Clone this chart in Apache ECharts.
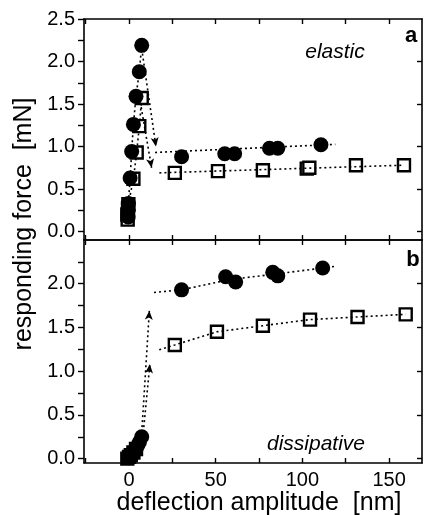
<!DOCTYPE html>
<html>
<head>
<meta charset="utf-8">
<script src="https://cdn.jsdelivr.net/npm/echarts@6/dist/echarts.min.js"></script>
<style>
  html, body { margin: 0; padding: 0; background: #fff; }
  #chart { width: 424px; height: 515px; }
</style>
</head>
<body>
<div id="chart"></div>
<script>
// ---- data ----
// axis ticks / labels
const xTicks = [-25, 0, 25, 50, 75, 100, 125, 150]
const xLabels = [0, 50, 100, 150]
const yTicksTop = [0, 0.25, 0.5, 0.75, 1, 1.25, 1.5, 1.75, 2, 2.25, 2.5]
const yLabelsTop = [0, 0.5, 1, 1.5, 2, 2.5]
const yTicksBottom = [0, 0.25, 0.5, 0.75, 1, 1.25, 1.5, 1.75, 2, 2.25]
const yLabelsBottom = [0, 0.5, 1, 1.5, 2]
const yRightTicks = [0, 0.5, 1, 1.5, 2]

// panel a (elastic) - steep rise near zero deflection
const elasticRiseCircles = [[-0.5, 0.17], [-0.5, 0.25], [-0.4, 0.33], [0.6, 0.63], [1.5, 0.94], [2.5, 1.26], [4, 1.59], [5.9, 1.88], [7.3, 2.19]]
const elasticRiseSquares = [[-0.8, 0.14], [-1, 0.2], [-0.6, 0.27], [-0.4, 0.32], [2.5, 0.62], [4.4, 0.93], [5.9, 1.24], [7.3, 1.57]]
// panel a - plateau
const elasticCircles = [[30.3, 0.88], [55.2, 0.915], [60.9, 0.915], [81, 0.98], [85.8, 0.98], [110.7, 1.02]]
const elasticSquares = [[26.4, 0.69], [51.3, 0.71], [77.2, 0.72], [102.5, 0.74], [104, 0.75], [130.9, 0.78], [158.6, 0.78]]
const elasticCircleTrend = [[15, 0.93], [119, 1.025]]
const elasticSquareTrend = [[17.5, 0.69], [158.6, 0.78]]
// arrows [from, to]
const elasticArrows = [[[7.3, 2.15], [15.5, 1.0]], [[6.5, 1.52], [13, 0.75]]]

// panel b (dissipative) - cluster near zero
const dissRiseCircles = [[0, 0.01], [1, 0.03], [2, 0.05], [3, 0.08], [4, 0.11], [5, 0.15], [6, 0.19], [7.3, 0.25]]
const dissRiseSquares = [[-1, 0.0], [0, 0.02], [1, 0.04], [2.5, 0.07], [4, 0.11]]
// panel b - plateau
const dissCircles = [[30.3, 1.93], [55.7, 2.08], [61.5, 2.02], [82.9, 2.13], [85.8, 2.09], [111.7, 2.18]]
const dissSquares = [[26.4, 1.3], [50.7, 1.45], [77.2, 1.52], [104.4, 1.59], [131.8, 1.62], [159.6, 1.65]]
const dissCircleTrend = [[14.4, 1.9], [30.3, 1.93], [58.6, 2.05], [84.3, 2.11], [111.7, 2.18], [119, 2.2]]
const dissSquareTrend = [[17.4, 1.245], [26.4, 1.3], [50.7, 1.45], [77.2, 1.52], [104.4, 1.59], [131.8, 1.62], [159.6, 1.65]]
const dissArrows = [[[7.5, 0.36], [11.7, 1.69]], [[8.5, 0.36], [12, 1.08]]]

// ---- styling ----
const FONT = 'Liberation Sans, Arial, sans-serif'
const DOTTED = { color: '#000', width: 1.6, type: [2, 3] }
const OPEN_SQ = { color: '#fff', borderColor: '#000', borderWidth: 2.4, opacity: 1 }
const FILLED = { color: '#000', opacity: 1 }

const chart = echarts.init(document.getElementById('chart'), null, { renderer: 'canvas' })

function xAxis(grid, position, withLabels) {
  return {
    type: 'value', gridIndex: grid, position: position,
    min: -26, max: 169,
    axisLine: { onZero: false, lineStyle: { color: '#000', width: 1.6 } },
    axisTick: { inside: true, length: 5, customValues: xTicks, lineStyle: { color: '#000', width: 1.4 } },
    axisLabel: withLabels
      ? { show: true, customValues: xLabels, margin: 7, color: '#000', fontSize: 20, fontFamily: FONT }
      : { show: false },
    splitLine: { show: false }
  }
}

function yAxis(grid, position, min, ticks, labels) {
  const left = position === 'left'
  return {
    type: 'value', gridIndex: grid, position: position,
    min: min, max: 2.5,
    axisLine: { onZero: false, lineStyle: { color: '#000', width: 1.6 } },
    axisTick: { inside: !left, length: left ? 6 : 5, customValues: ticks, lineStyle: { color: '#000', width: 1.4 } },
    axisLabel: labels
      ? { show: true, customValues: labels, margin: 9, color: '#000', fontSize: 20, fontFamily: FONT,
          formatter: v => v.toFixed(1) }
      : { show: false },
    splitLine: { show: false }
  }
}

function line(grid, data, extra) {
  return Object.assign({
    type: 'line', xAxisIndex: grid * 2, yAxisIndex: grid * 2,
    data: data, symbol: 'none', lineStyle: DOTTED, z: 4, silent: true
  }, extra || {})
}

function pts(grid, data, shape, z) {
  const sq = shape === 'rect'
  return {
    type: 'scatter', xAxisIndex: grid * 2, yAxisIndex: grid * 2,
    data: data, symbol: shape, symbolSize: sq ? 12 : 15,
    itemStyle: sq ? OPEN_SQ : FILLED, z: z, silent: true
  }
}

function arrows(grid, list) {
  return {
    type: 'line', xAxisIndex: grid * 2, yAxisIndex: grid * 2, data: [], silent: true,
    markLine: {
      silent: true, animation: false,
      symbol: ['none', 'arrow'], symbolSize: [6, 9],
      label: { show: false },
      lineStyle: DOTTED,
      data: list.map(a => [{ coord: a[0] }, { coord: a[1] }])
    }
  }
}

const option = {
  animation: false,
  backgroundColor: '#fff',
  grid: [
    { left: 84, right: 2, top: 19, height: 221 },
    { left: 84, right: 2, top: 240, height: 223 }
  ],
  xAxis: [
    xAxis(0, 'bottom', false),
    xAxis(0, 'top', false),
    xAxis(1, 'bottom', true),
    xAxis(1, 'top', false)
  ],
  yAxis: [
    yAxis(0, 'left', -0.1, yTicksTop, yLabelsTop),
    yAxis(0, 'right', -0.1, yRightTicks, null),
    yAxis(1, 'left', -0.05, yTicksBottom, yLabelsBottom),
    yAxis(1, 'right', -0.05, yRightTicks, null)
  ],
  series: [
    // panel a
    line(0, elasticRiseSquares, { z: 1 }),
    pts(0, elasticRiseSquares, 'rect', 2),
    line(0, elasticRiseCircles, { z: 1 }),
    pts(0, elasticRiseCircles, 'circle', 3),
    pts(0, elasticSquares, 'rect', 2),
    pts(0, elasticCircles, 'circle', 3),
    line(0, elasticCircleTrend),
    line(0, elasticSquareTrend),
    arrows(0, elasticArrows),
    // panel b
    pts(1, dissRiseSquares, 'rect', 2),
    pts(1, dissRiseCircles, 'circle', 3),
    pts(1, dissSquares, 'rect', 2),
    pts(1, dissCircles, 'circle', 3),
    line(1, dissCircleTrend),
    line(1, dissSquareTrend),
    arrows(1, dissArrows)
  ],
  graphic: [
    { type: 'text', x: 24, y: 224, rotation: Math.PI / 2,
      style: { text: 'responding force  [mN]', fill: '#000', font: '25px ' + FONT, textAlign: 'center', textVerticalAlign: 'middle' } },
    { type: 'text', x: 259, y: 503,
      style: { text: 'deflection amplitude  [nm]', fill: '#000', font: '25px ' + FONT, textAlign: 'center', textVerticalAlign: 'middle' } },
    { type: 'text', x: 335, y: 52,
      style: { text: 'elastic', fill: '#000', font: 'italic 21px ' + FONT, textAlign: 'center', textVerticalAlign: 'middle' } },
    { type: 'text', x: 316, y: 444,
      style: { text: 'dissipative', fill: '#000', font: 'italic 21px ' + FONT, textAlign: 'center', textVerticalAlign: 'middle' } },
    { type: 'text', x: 411, y: 36,
      style: { text: 'a', fill: '#000', font: 'bold 22px ' + FONT, textAlign: 'center', textVerticalAlign: 'middle' } },
    { type: 'text', x: 413, y: 260,
      style: { text: 'b', fill: '#000', font: 'bold 22px ' + FONT, textAlign: 'center', textVerticalAlign: 'middle' } }
  ]
}

chart.setOption(option)
</script>
</body>
</html>
